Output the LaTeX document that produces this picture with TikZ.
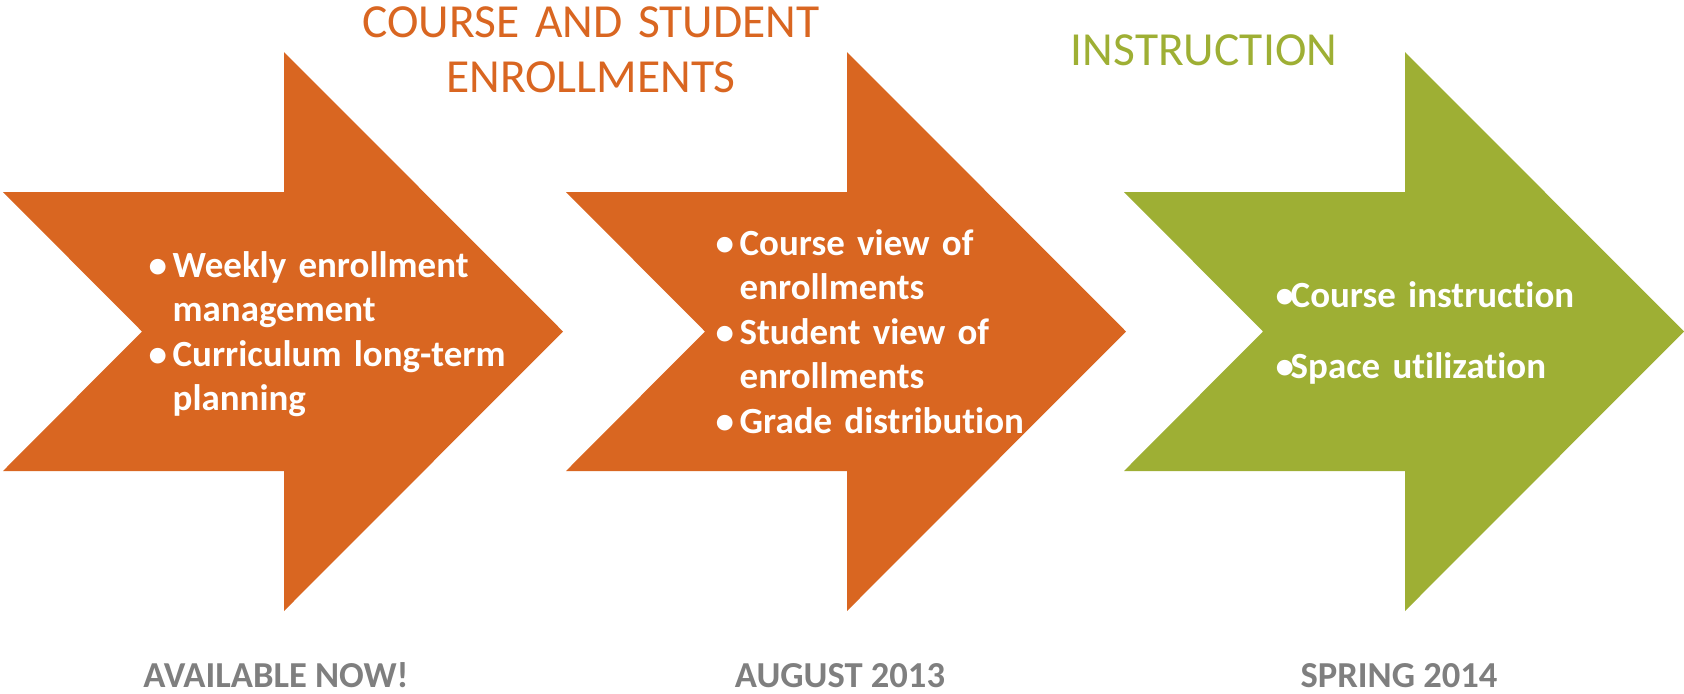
\documentclass[tikz,border=0pt]{standalone}
\usepackage{fontspec}
\setmainfont{Carlito}[Ligatures=NoCommon]
\definecolor{rust}{RGB}{217,102,33}
\definecolor{leaf}{RGB}{158,175,52}
\definecolor{slate}{RGB}{127,127,127}
\newlength{\bulind}
\setlength{\bulind}{0.24cm}
\newcommand{\bitem}[1]{\hangindent=\bulind\hangafter=1\makebox[\bulind][l]{\textbullet}#1\par}
\newcommand{\bigarrow}[2]{\fill[#2] (#1,192) -- ++(281,0) -- ++(0,-140) -- ++(279,279.5) -- ++(-279,279.5) -- ++(0,-140) -- ++(-281,0) -- ++(139,-139.5) -- cycle;}
\tikzset{
  items/.style={text=white, font=\fontsize{10.5pt}{12.66pt}\selectfont\bfseries, text width=4.4cm, inner sep=0pt, anchor=base west, align=left},
  heading/.style={font=\fontsize{13.5pt}{15.9pt}\selectfont, text width=6cm, inner sep=0pt, anchor=base, align=center},
  when/.style={text=slate, font=\fontsize{10.4pt}{12pt}\selectfont\bfseries, inner sep=0pt, anchor=base}
}
\begin{document}
\begin{tikzpicture}[x=0.01cm,y=-0.01cm]
\useasboundingbox (0,0) rectangle (1684,693);
\bigarrow{3}{rust}
\bigarrow{566}{rust}
\bigarrow{1124}{leaf}
\node[heading, text=rust] (enroll) at (591,37) {COURSE AND STUDENT\\ENROLLMENTS};
\node[heading, text=leaf] (instr) at (1204,65) {INSTRUCTION};
\node[items] (weekly) at (148,277) {\bitem{Weekly enrollment\newline management}\bitem{Curriculum long-term\newline planning}};
\node[items] (views) at (715,255) {\bitem{Course view of\newline enrollments}\bitem{Student view of\newline enrollments}\bitem{Grade distribution}};
\node[items] (space) at (1275,307) {\setlength{\bulind}{0.15cm}\setlength{\parskip}{0.265cm}\bitem{Course instruction}\bitem{Space utilization}};
\node[when] (now) at (276,687) {AVAILABLE NOW!};
\node[when] (aug) at (840,687) {AUGUST 2013};
\node[when] (spring) at (1399,687) {SPRING 2014};
\end{tikzpicture}
\end{document}
